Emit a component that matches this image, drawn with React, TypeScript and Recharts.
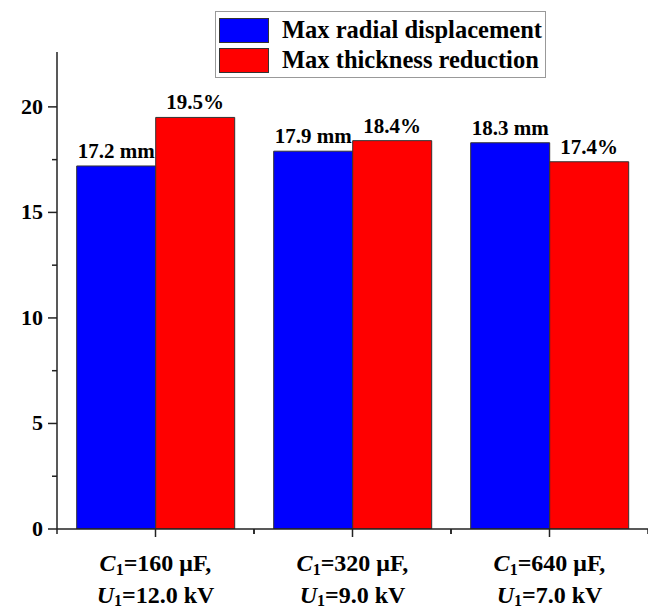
import { BarChart, Bar, XAxis, YAxis, LabelList } from 'recharts';

// capacitance / voltage pairs for each case
const capacitance = ['160', '320', '640'];
const voltage = ['12.0', '9.0', '7.0'];
const radialDisp = [17.2, 17.9, 18.3]; // mm
const thicknessRed = [19.5, 18.4, 17.4]; // %
const yTicks = [0, 2.5, 5, 7.5, 10, 12.5, 15, 17.5, 20];

const data = capacitance.map((c, i) => ({
    name: `C1=${c} μF, U1=${voltage[i]} kV`,
    disp: radialDisp[i],
    thick: thicknessRed[i],
}));

const FONT = '"Liberation Serif", "Times New Roman", serif';
const AXIS = '#222';
const HALF_BAND = (648 - 57) / 6;

const YTick = (props: any) => {
    const { x, y, payload } = props;
    const major = payload.value % 5 === 0;
    return (
        <g>
            <line x1={x - (major ? 9 : 5)} x2={x} y1={y} y2={y} stroke={AXIS} strokeWidth={1.5} />
            {major && (
                <text x={x - 14} y={y} dy={7} textAnchor="end" fontFamily={FONT} fontWeight="bold" fontSize={22} fill="#000">
                    {payload.value}
                </text>
            )}
        </g>
    );
};

const XTick = (props: any) => {
    const { x, y, index } = props;
    return (
        <g>
            <line x1={x} x2={x} y1={y} y2={y + 8} stroke={AXIS} strokeWidth={1.5} />
            <line x1={x - HALF_BAND} x2={x - HALF_BAND} y1={y} y2={y + 5} stroke={AXIS} strokeWidth={1.5} />
            <line x1={x + HALF_BAND} x2={x + HALF_BAND} y1={y} y2={y + 5} stroke={AXIS} strokeWidth={1.5} />
            <text x={x} y={y + 42} textAnchor="middle" fontFamily={FONT} fontWeight="bold" fontSize={24} fill="#000">
                <tspan fontStyle="italic">C</tspan>
                <tspan fontSize={16} dy={4}>1</tspan>
                <tspan dy={-4}>{`=${capacitance[index]} μF,`}</tspan>
            </text>
            <text x={x} y={y + 74} textAnchor="middle" fontFamily={FONT} fontWeight="bold" fontSize={24} fill="#000">
                <tspan fontStyle="italic">U</tspan>
                <tspan fontSize={16} dy={3}>1</tspan>
                <tspan dy={-3}>{`=${voltage[index]} kV`}</tspan>
            </text>
        </g>
    );
};

const LegendRow = ({ color, label }: { color: string; label: string }) => (
    <div style={{ display: 'flex', alignItems: 'center', height: 30 }}>
        <div style={{ width: 48, height: 23, background: color, border: '1px solid #333', marginRight: 13 }} />
        <span style={{ fontFamily: FONT, fontWeight: 'bold', fontSize: 24.5, color: '#000', whiteSpace: 'nowrap' }}>
            {label}
        </span>
    </div>
);

export default function App() {
    return (
        <div style={{ position: 'absolute', left: 0, top: 0, width: 648, height: 610, background: '#fff' }}>
            <BarChart
                width={648}
                height={610}
                data={data}
                margin={{ top: 52, right: 0, left: 0, bottom: 0 }}
                barCategoryGap="10%"
                barGap={0}
            >
                <XAxis
                    dataKey="name"
                    height={81}
                    axisLine={{ stroke: AXIS, strokeWidth: 1.5 }}
                    tickLine={false}
                    tickSize={0}
                    tickMargin={0}
                    interval={0}
                    tick={<XTick />}
                />
                <YAxis
                    width={57}
                    domain={[0, 22.6]}
                    ticks={yTicks}
                    interval={0}
                    allowDataOverflow
                    axisLine={{ stroke: AXIS, strokeWidth: 1.5 }}
                    tickLine={false}
                    tickSize={0}
                    tickMargin={0}
                    tick={<YTick />}
                />
                <Bar dataKey="disp" fill="#0000ff" stroke="#333" strokeWidth={1} isAnimationActive={false}>
                    <LabelList
                        dataKey="disp"
                        position="top"
                        offset={8}
                        formatter={(v: any) => `${v} mm`}
                        style={{ fontFamily: FONT, fontSize: 21, fontWeight: 'bold', fill: '#000' }}
                    />
                </Bar>
                <Bar dataKey="thick" fill="#ff0000" stroke="#333" strokeWidth={1} isAnimationActive={false}>
                    <LabelList
                        dataKey="thick"
                        position="top"
                        offset={8}
                        formatter={(v: any) => `${v}%`}
                        style={{ fontFamily: FONT, fontSize: 21, fontWeight: 'bold', fill: '#000' }}
                    />
                </Bar>
            </BarChart>
            <div
                style={{
                    position: 'absolute',
                    left: 215,
                    top: 11,
                    width: 326,
                    padding: '3px 0 2px 3px',
                    border: '1px solid #999',
                    background: '#fff',
                }}
            >
                <LegendRow color="#0000ff" label="Max radial displacement" />
                <LegendRow color="#ff0000" label="Max thickness reduction" />
            </div>
        </div>
    );
}
